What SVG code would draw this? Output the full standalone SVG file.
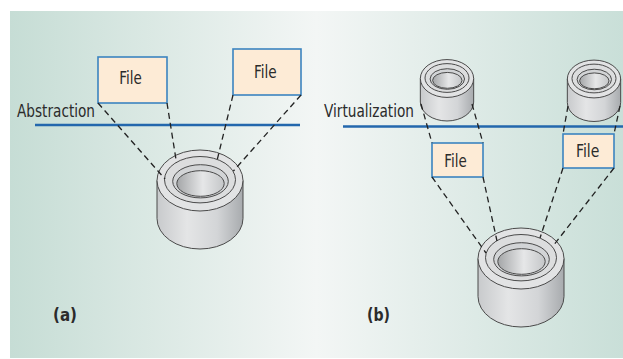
<svg xmlns="http://www.w3.org/2000/svg" xmlns:xlink="http://www.w3.org/1999/xlink" width="623" height="359" viewBox="0 0 623 359">
  <style>
    .lbl { font-family: "Liberation Sans Narrow", "DejaVu Sans Condensed", "Liberation Sans", sans-serif; font-size: 17px; fill: #2b2b2b; }
    .cap { font-family: "Liberation Sans Narrow", "DejaVu Sans Condensed", "Liberation Sans", sans-serif; font-size: 17.5px; font-weight: bold; fill: #2b2b2b; }
    .box { fill: #fdebd6; stroke: #3b84c0; stroke-width: 1.6; }
    .level { stroke: #2367ad; stroke-width: 2.6; fill: none; }
    .dash { stroke: #222; stroke-width: 1.3; stroke-dasharray: 6 4; fill: none; }
    .edge { stroke: #4a4a4a; stroke-width: 1; vector-effect: non-scaling-stroke; }
  </style>
  <defs>
    <linearGradient id="bg" x1="0" y1="0" x2="1" y2="0">
      <stop offset="0" stop-color="#c6ddd5"/>
      <stop offset="0.5" stop-color="#f3f6f5"/>
      <stop offset="1" stop-color="#c9dfd8"/>
    </linearGradient>
    <linearGradient id="side" x1="0" y1="0" x2="1" y2="0">
      <stop offset="0" stop-color="#c8cacc"/>
      <stop offset="0.35" stop-color="#e4e5e6"/>
      <stop offset="0.7" stop-color="#d3d5d7"/>
      <stop offset="1" stop-color="#a8abae"/>
    </linearGradient>
    <linearGradient id="holeIn" x1="0" y1="0" x2="1" y2="0">
      <stop offset="0" stop-color="#a4a6a8"/>
      <stop offset="0.55" stop-color="#e6e7e8"/>
      <stop offset="1" stop-color="#c4c6c8"/>
    </linearGradient>
    <!-- disk drawn around the centre of its top face -->
    <g id="disk">
      <path class="edge" d="M-43,0 L-43,38 A43 30.5 0 0 0 43,38 L43,0 Z" fill="url(#side)"/>
      <ellipse class="edge" cx="0" cy="0" rx="43" ry="30.5" fill="#e2e3e4"/>
      <ellipse class="edge" cx="0" cy="-0.8" rx="35.5" ry="23.2" fill="#dcddde"/>
      <ellipse class="edge" cx="0.5" cy="0.8" rx="27.8" ry="16.6" fill="#d2d4d6"/>
      <ellipse class="edge" cx="0.5" cy="3" rx="23.7" ry="12.8" fill="url(#holeIn)"/>
    </g>
  </defs>

  <rect x="10" y="11" width="613" height="347" fill="url(#bg)"/>

  <!-- (a) abstraction -->
  <g id="level-abstraction">
    <line class="level" x1="35" y1="125" x2="300" y2="125"/>
    <text class="lbl" x="17" y="116.5" textLength="78" lengthAdjust="spacingAndGlyphs">Abstraction</text>
  </g>
  <g id="disk-a">
    <use xlink:href="#disk" transform="translate(200,180.5)"/>
  </g>
  <g id="file-a1">
    <rect class="box" x="98" y="57" width="69" height="46"/>
    <text class="lbl" x="119.3" y="84.3" textLength="22.4" lengthAdjust="spacingAndGlyphs">File</text>
  </g>
  <g id="file-a2">
    <rect class="box" x="233" y="49" width="68" height="46"/>
    <text class="lbl" x="254" y="77.7" textLength="22.7" lengthAdjust="spacingAndGlyphs">File</text>
  </g>
  <text id="caption-a" class="cap" x="53" y="321.3" textLength="24" lengthAdjust="spacingAndGlyphs">(a)</text>

  <!-- (b) virtualization -->
  <g id="level-virtualization">
    <line class="level" x1="343" y1="126.5" x2="623" y2="126.5"/>
    <text class="lbl" x="324" y="116.5" textLength="90" lengthAdjust="spacingAndGlyphs">Virtualization</text>
  </g>
  <g id="disk-b1">
    <use xlink:href="#disk" transform="translate(447,78.5) scale(0.62)"/>
  </g>
  <g id="disk-b2">
    <use xlink:href="#disk" transform="translate(594,79) scale(0.62)"/>
  </g>
  <g id="disk-b">
    <use xlink:href="#disk" transform="translate(521,258.5)"/>
  </g>
  <g id="file-b1">
    <rect class="box" x="432" y="143" width="51" height="34"/>
    <text class="lbl" x="444.3" y="166.5" textLength="22.4" lengthAdjust="spacingAndGlyphs">File</text>
  </g>
  <g id="file-b2">
    <rect class="box" x="563" y="134" width="51" height="34"/>
    <text class="lbl" x="576" y="156.5" textLength="23.3" lengthAdjust="spacingAndGlyphs">File</text>
  </g>
  <text id="caption-b" class="cap" x="367" y="321.3" textLength="23" lengthAdjust="spacingAndGlyphs">(b)</text>

  <!-- dashed mappings between files and disks -->
  <g id="connectors">
    <line class="dash" x1="98" y1="103" x2="165" y2="179"/>
    <line class="dash" x1="167" y1="103" x2="176.5" y2="162.5"/>
    <line class="dash" x1="233" y1="95" x2="217.3" y2="159.4"/>
    <line class="dash" x1="301" y1="95" x2="233.4" y2="171"/>

    <line class="dash" x1="421" y1="104" x2="432" y2="143"/>
    <line class="dash" x1="472" y1="104" x2="483" y2="143"/>
    <line class="dash" x1="568" y1="106" x2="563" y2="134"/>
    <line class="dash" x1="620" y1="106" x2="614" y2="134"/>

    <line class="dash" x1="432" y1="177" x2="486" y2="253"/>
    <line class="dash" x1="483" y1="177" x2="497" y2="241"/>
    <line class="dash" x1="563" y1="168" x2="540" y2="238"/>
    <line class="dash" x1="614" y1="168" x2="553" y2="246"/>
  </g>
</svg>
